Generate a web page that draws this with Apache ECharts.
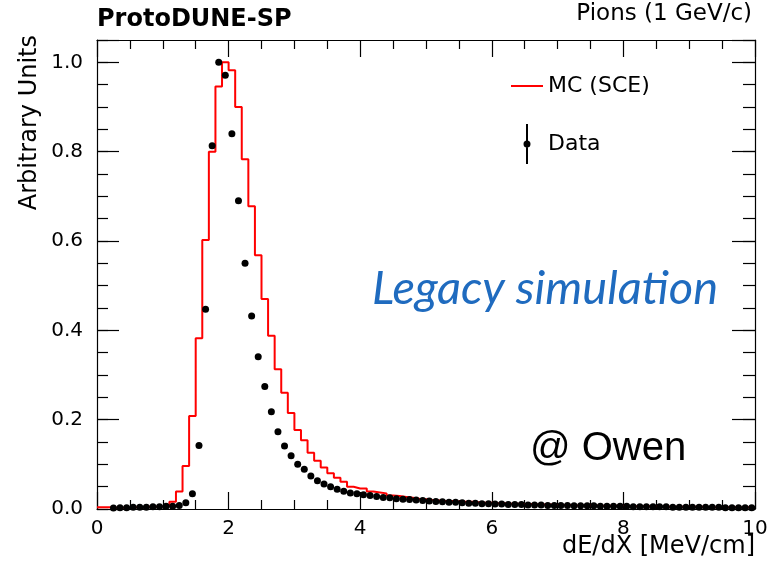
<!DOCTYPE html>
<html>
<head>
<meta charset="utf-8">
<script src="https://cdn.jsdelivr.net/npm/echarts@6/dist/echarts.min.js"></script>
<style>
html,body{margin:0;padding:0;background:#fff;}
#chart{width:767px;height:572px;}
</style>
</head>
<body>
<div id="chart"></div>
<script>
// ---- data ----
var binLow = 0;        // first bin low edge (MeV/cm)
var binWidth = 0.1;    // bin width (MeV/cm)
var xTicks = [0, 2, 4, 6, 8, 10];
var yTicks = [0.0, 0.2, 0.4, 0.6, 0.8, 1.0];

// MC (SCE) histogram contents, 100 bins from 0 to 10
var mcValues = [
  0.004, 0.004, 0.003, 0.003, 0.003, 0.004, 0.004, 0.005, 0.005, 0.006,
  0.008, 0.016, 0.039, 0.096, 0.208, 0.382, 0.602, 0.800, 0.946, 1.000,
  0.982, 0.900, 0.783, 0.678, 0.568, 0.470, 0.388, 0.313, 0.260, 0.215,
  0.177, 0.154, 0.126, 0.108, 0.093, 0.080, 0.070, 0.061, 0.050, 0.046,
  0.046, 0.039, 0.037, 0.035, 0.030, 0.029, 0.027, 0.025, 0.023, 0.022,
  0.020, 0.019, 0.018, 0.018, 0.017, 0.016, 0.016, 0.015, 0.014, 0.014,
  0.013, 0.013, 0.012, 0.012, 0.011, 0.011, 0.010, 0.010, 0.010, 0.009,
  0.009, 0.009, 0.008, 0.008, 0.008, 0.008, 0.007, 0.007, 0.007, 0.007,
  0.006, 0.006, 0.006, 0.006, 0.006, 0.005, 0.005, 0.005, 0.005, 0.005,
  0.005, 0.005, 0.004, 0.004, 0.004, 0.004, 0.004, 0.004, 0.004, 0.004
];

// Data histogram contents (drawn as points at bin centres)
var dataValues = [
  null,  null,  0.002, 0.003, 0.003, 0.004, 0.004, 0.004, 0.005, 0.005,
  0.006, 0.006, 0.008, 0.014, 0.034, 0.142, 0.447, 0.813, 1.000, 0.971,
  0.840, 0.690, 0.550, 0.432, 0.341, 0.274, 0.218, 0.173, 0.141, 0.119,
  0.100, 0.089, 0.074, 0.063, 0.056, 0.050, 0.044, 0.040, 0.036, 0.034,
  0.032, 0.030, 0.028, 0.026, 0.025, 0.023, 0.022, 0.021, 0.020, 0.019,
  0.018, 0.017, 0.016, 0.015, 0.015, 0.014, 0.013, 0.013, 0.012, 0.012,
  0.011, 0.011, 0.010, 0.010, 0.010, 0.009, 0.009, 0.009, 0.008, 0.008,
  0.008, 0.008, 0.007, 0.007, 0.007, 0.007, 0.006, 0.006, 0.006, 0.006,
  0.006, 0.005, 0.005, 0.005, 0.005, 0.005, 0.005, 0.004, 0.004, 0.004,
  0.004, 0.004, 0.004, 0.004, 0.004, 0.003, 0.003, 0.003, 0.003, 0.003
];

var mcName = 'MC (SCE)';
var dataName = 'Data';
var xTitle = 'dE/dX [MeV/cm]';
var yTitle = 'Arbitrary Units';
var plotTitle = 'ProtoDUNE-SP';
var beamLabel = 'Pions (1 GeV/c)';
var noteBlue = 'Legacy simulation';
var noteAuthor = '@ Owen';

// ---- build series data ----
var mcLine = mcValues.map(function (v, i) { return [binLow + i * binWidth, v]; });
mcLine.push([binLow + mcValues.length * binWidth, mcValues[mcValues.length - 1]]);
var dataPts = [];
dataValues.forEach(function (v, i) {
  if (v !== null) dataPts.push([binLow + (i + 0.5) * binWidth, v]);
});

var FONT = 'DejaVu Sans';
var xMin = xTicks[0], xMax = xTicks[xTicks.length - 1];
var xInt = xTicks[1] - xTicks[0];
var yInt = yTicks[1] - yTicks[0];
var yMax = 1.05;

function yAxisCfg(pos, interval, len, showLine, showLabel) {
  return {
    type: 'value', position: pos, min: 0, max: yMax, interval: interval,
    axisLine: { show: showLine, onZero: false, lineStyle: { color: '#000', width: 1.2 } },
    axisTick: { show: true, inside: true, length: len, lineStyle: { color: '#000', width: 1.2 } },
    splitLine: { show: false },
    axisLabel: {
      show: showLabel, margin: 14, color: '#000', fontSize: 20, fontFamily: FONT,
      formatter: function (v) { return v > 1.0001 ? '' : v.toFixed(1); }
    }
  };
}

var chart = echarts.init(document.getElementById('chart'), null, { renderer: 'canvas' });
chart.setOption({
  animation: false,
  backgroundColor: '#fff',
  grid: { left: 97, right: 12, top: 40, bottom: 63, containLabel: false, outerBoundsMode: 'none' },
  xAxis: [
    {
      type: 'value', position: 'bottom', min: xMin, max: xMax, interval: xInt,
      axisLine: { show: true, onZero: false, lineStyle: { color: '#000', width: 1.2 } },
      axisTick: { show: true, inside: true, length: 17, lineStyle: { color: '#000', width: 1.2 } },
      minorTick: { show: true, splitNumber: 4, length: 9, lineStyle: { color: '#000', width: 1.2 } },
      splitLine: { show: false },
      axisLabel: { margin: 10, color: '#000', fontSize: 20, fontFamily: FONT },
      name: xTitle, nameLocation: 'end', nameGap: 0, nameMoveOverlap: false,
      nameTextStyle: { align: 'right', verticalAlign: 'top', padding: [26, 0, 0, 0], color: '#000', fontSize: 24, fontFamily: FONT }
    },
    {
      type: 'value', position: 'top', min: xMin, max: xMax, interval: xInt,
      axisLine: { show: true, onZero: false, lineStyle: { color: '#000', width: 1.2 } },
      axisTick: { show: true, inside: true, length: 17, lineStyle: { color: '#000', width: 1.2 } },
      minorTick: { show: true, splitNumber: 4, length: 9, lineStyle: { color: '#000', width: 1.2 } },
      splitLine: { show: false },
      axisLabel: { show: false }
    }
  ],
  yAxis: [
    Object.assign(yAxisCfg('left', yInt, 22, true, true), {
      name: yTitle, nameLocation: 'end', nameRotate: 90, nameGap: 5, nameMoveOverlap: false,
      nameTextStyle: { align: 'right', verticalAlign: 'bottom', padding: [0, 0, 55, 0], color: '#000', fontSize: 24, fontFamily: FONT }
    }),
    yAxisCfg('left', 0.05, 11, false, false),
    yAxisCfg('right', yInt, 23, true, false),
    yAxisCfg('right', 0.05, 12, false, false)
  ],
  legend: {
    orient: 'vertical', left: 506, top: 70,
    itemWidth: 32, itemHeight: 40, itemGap: 27,
    selectedMode: false, symbolKeepAspect: true,
    textStyle: { color: '#000', fontSize: 22, fontFamily: FONT },
    data: [
      { name: mcName, icon: 'path://M0,19 L32,19 L32,21 L0,21 Z', itemStyle: { color: '#ff0000', borderWidth: 0 } },
      { name: dataName, icon: 'path://M15,0 L17,0 L17,40 L15,40 Z M16,16.5 A3.5,3.5 0 1,1 16,23.5 A3.5,3.5 0 1,1 16,16.5 Z', itemStyle: { color: '#000', borderWidth: 0 } }
    ]
  },
  series: [
    {
      name: mcName, type: 'line', xAxisIndex: 0, yAxisIndex: 0,
      step: 'end', data: mcLine, showSymbol: false, symbol: 'none',
      lineStyle: { color: '#ff0000', width: 2 }, itemStyle: { color: '#ff0000' },
      clip: true, z: 2
    },
    {
      name: dataName, type: 'scatter', xAxisIndex: 0, yAxisIndex: 0,
      data: dataPts, symbol: 'circle', symbolSize: 7,
      itemStyle: { color: '#000', opacity: 1 }, clip: true, z: 3
    }
  ],
  graphic: [
    { type: 'text', left: 97, top: 8, style: { text: plotTitle, fill: '#000', font: 'bold 24px "DejaVu Sans"' } },
    { type: 'text', right: 15, top: 3, style: { text: beamLabel, fill: '#000', font: '23px "DejaVu Sans"' } },
    { type: 'text', left: 372, top: 265, style: { text: noteBlue, fill: '#1f6bbf', font: 'italic 47px Lato' } },
    { type: 'text', left: 530, top: 429, style: { text: noteAuthor, fill: '#000', font: '40px "Liberation Sans"' } }
  ]
});
</script>
</body>
</html>
